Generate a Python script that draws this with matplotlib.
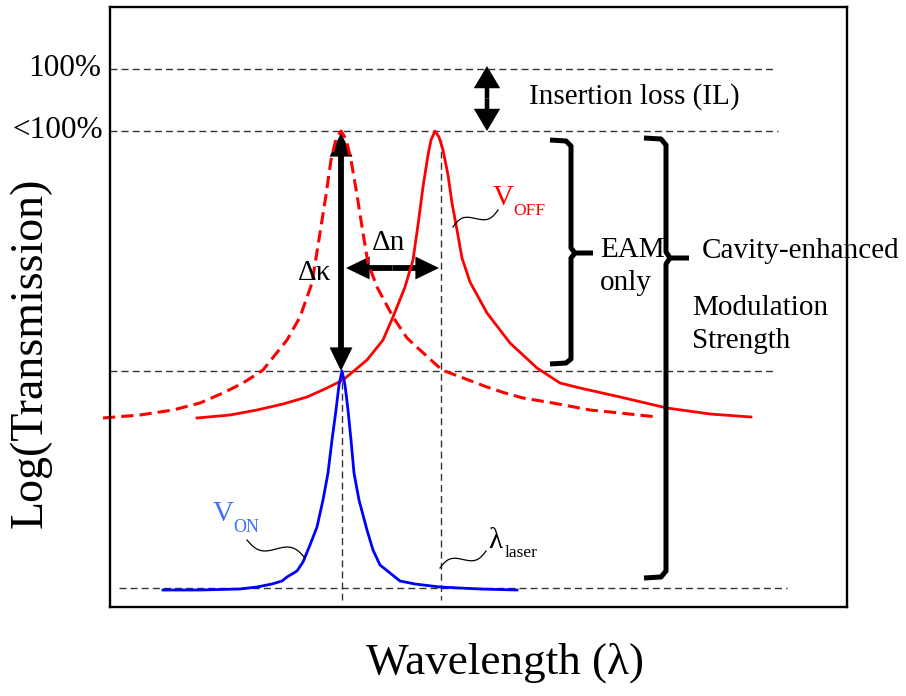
import numpy as np
import matplotlib
matplotlib.use("Agg")
import matplotlib.pyplot as plt
from matplotlib.patches import FancyArrowPatch

plt.rcParams['font.family'] = ['Liberation Serif', 'DejaVu Serif']

# transmission levels (arbitrary log units)
level_full = 627      # 100%
level_peak = 565      # <100%
level_on_peak = 325   # V_ON resonance depth
level_floor = 108     # V_ON background

# resonance wavelengths (arbitrary units)
lambda_on = 342
lambda_laser = 441

# V_OFF spectrum before the index shift (dashed)
off_ref_wl = [103, 140, 173, 200, 223, 243, 263, 287, 300, 312, 320, 326, 331,
              336, 341, 346, 351, 357, 363, 368, 377, 393, 407, 420, 442, 487,
              505, 523, 553, 590, 620, 657]
off_ref_t = [278, 281, 286, 293, 303, 313, 326, 356, 379, 413, 463, 501, 536,
             557, 565, 557, 536, 501, 463, 433, 409, 379, 358, 346, 326, 309,
             303, 298, 293, 286, 283, 279]

# V_OFF spectrum (solid)
off_wl = [197, 230, 257, 283, 307, 327, 343, 367, 383, 393, 405, 413, 418, 423,
          428, 431, 435, 439, 443, 448, 452, 457, 462, 470, 487, 510, 537, 560,
          580, 620, 667, 710, 751]
off_t = [278, 281, 286, 292, 299, 308, 316, 336, 356, 379, 409, 436, 471, 509,
         541, 556, 565, 559, 546, 521, 493, 466, 438, 414, 383, 353, 328, 313,
         308, 299, 288, 282, 279]

# V_ON spectrum
on_wl = [163, 200, 240, 257, 272, 282, 287, 297, 303, 310, 317, 323, 328, 332,
         336, 339, 342, 345, 348, 351, 354, 359, 367, 373, 380, 390, 400, 415,
         440, 480, 517]
on_t = [106, 106, 107, 109, 112, 115, 119, 125, 134, 151, 169, 196, 223, 256,
        286, 311, 325, 311, 286, 256, 223, 196, 166, 146, 131, 123, 115, 112,
        109, 107, 106]

RED = '#ff0000'
BLUE = '#0000ff'
FS = 21


def squiggle(ax, p0, p1, amp, cycles=1.0, sign=1):
    t = np.linspace(0, 1, 80)
    p0 = np.array(p0, float)
    p1 = np.array(p1, float)
    d = p1 - p0
    n = np.array([-d[1], d[0]]) / np.hypot(*d)
    pts = p0[None, :] + t[:, None] * d[None, :] + \
        sign * amp * np.sin(2 * np.pi * cycles * t)[:, None] * n[None, :]
    ax.plot(pts[:, 0], pts[:, 1], color='k', lw=0.9, clip_on=False)


def darrow(ax, p0, p1, tail=0.42, hw=1.65, hl=1.7):
    # double-headed arrow built from two single arrows leaving the midpoint
    mid = ((p0[0] + p1[0]) / 2, (p0[1] + p1[1]) / 2)
    style = 'simple,head_length=%g,head_width=%g,tail_width=%g' % (hl, hw, tail)
    for end in (p0, p1):
        ax.add_patch(FancyArrowPatch(mid, end, arrowstyle=style, mutation_scale=10,
                                     lw=0, color='k', shrinkA=0, shrinkB=0,
                                     clip_on=False))


fig = plt.figure(figsize=(9.06, 6.96), dpi=100)
ax = fig.add_axes([110 / 906, 89 / 696, 737 / 906, 600 / 696])
ax.set_xlim(110, 847)
ax.set_ylim(89, 689)
ax.set_xticks([])
ax.set_yticks([])
for s in ax.spines.values():
    s.set_linewidth(1.7)

# guide lines
gl = dict(color='#333333', lw=1.0, ls=(0, (5, 3)), clip_on=False)
ax.plot([110, 775], [level_full] * 2, **gl)
ax.plot([110, 778], [level_peak] * 2, **gl)
ax.plot([110, 776], [level_on_peak] * 2, **gl)
ax.plot([119, 787], [level_floor] * 2, **gl)
ax.plot([lambda_on] * 2, [level_on_peak, 96], **gl)
ax.plot([lambda_laser] * 2, [556, 96], **gl)

# spectra
ax.plot(off_ref_wl, off_ref_t, color=RED, lw=2.2, ls=(0, (4, 2)), clip_on=False)
ax.plot(off_wl, off_t, color=RED, lw=2.0, clip_on=False)
ax.plot(on_wl, on_t, color=BLUE, lw=2.0, clip_on=False)

# arrows
darrow(ax, (341, level_on_peak), (341, level_peak - 2))
darrow(ax, (346, 428), (439, 428))
darrow(ax, (487, level_peak), (487, level_full + 3), tail=0.33, hw=1.9, hl=1.6)

# brackets
bk = dict(color='k', lw=3.6, solid_joinstyle='round', solid_capstyle='butt', clip_on=False)
ax.plot([550, 566, 571, 571, 575, 593], [556, 555, 550, 448, 443, 443], **bk)
ax.plot([575, 571, 571, 566, 550], [443, 438, 337, 333, 332], **bk)
ax.plot([644, 661, 666, 666, 670, 689], [558, 557, 551, 444, 438, 438], **bk)
ax.plot([670, 666, 666, 661, 644], [438, 432, 125, 119, 118], **bk)

# leader squiggles
squiggle(ax, (453, 469), (498, 486), 5, 1.0, sign=1)
squiggle(ax, (305, 138), (247, 156), 6, 1.0, sign=-1)
squiggle(ax, (440, 128), (486, 145), 5, 1.0, sign=1)

# labels
tk = dict(fontsize=22.5, va='center', ha='right', clip_on=False)
ax.text(101, level_full, '100%', **tk)
ax.text(103, level_peak, '<100%', **tk)
ax.text(529, 599, 'Insertion loss (IL)', fontsize=FS, va='center', ha='left')

ax.text(493, 491, 'V', color=RED, fontsize=FS, va='baseline')
ax.text(513, 481, 'OFF', color=RED, fontsize=12.5, va='baseline')
ax.text(213, 175, 'V', color='#3f6fff', fontsize=FS, va='baseline')
ax.text(233, 164, 'ON', color='#3f6fff', fontsize=13, va='baseline')
ax.text(488, 148, 'λ', fontsize=FS, va='baseline')
ax.text(505, 139, 'laser', fontsize=12.5, va='baseline')

ax.text(372, 446, 'Δn', fontsize=FS, va='baseline')
ax.text(298, 416, 'Δκ', fontsize=FS, va='baseline')

ax.text(600, 439, 'EAM', fontsize=FS, va='baseline')
ax.text(600, 406, 'only', fontsize=FS, va='baseline')
ax.text(702, 438, 'Cavity-enhanced', fontsize=FS, va='baseline', clip_on=False)
ax.text(692, 381, 'Modulation', fontsize=FS, va='baseline')
ax.text(692, 348, 'Strength', fontsize=FS, va='baseline')

ax.set_xlabel('Wavelength (λ)', fontsize=32.5, va='center')
ax.xaxis.set_label_coords((505 - 110) / 737, (607 - 663) / 600)
ax.set_ylabel('Log(Transmission)', fontsize=33, va='center', ha='center')
ax.yaxis.set_label_coords((30 - 110) / 737, (607 - 353) / 600)

fig.savefig('out.png', dpi=100)
